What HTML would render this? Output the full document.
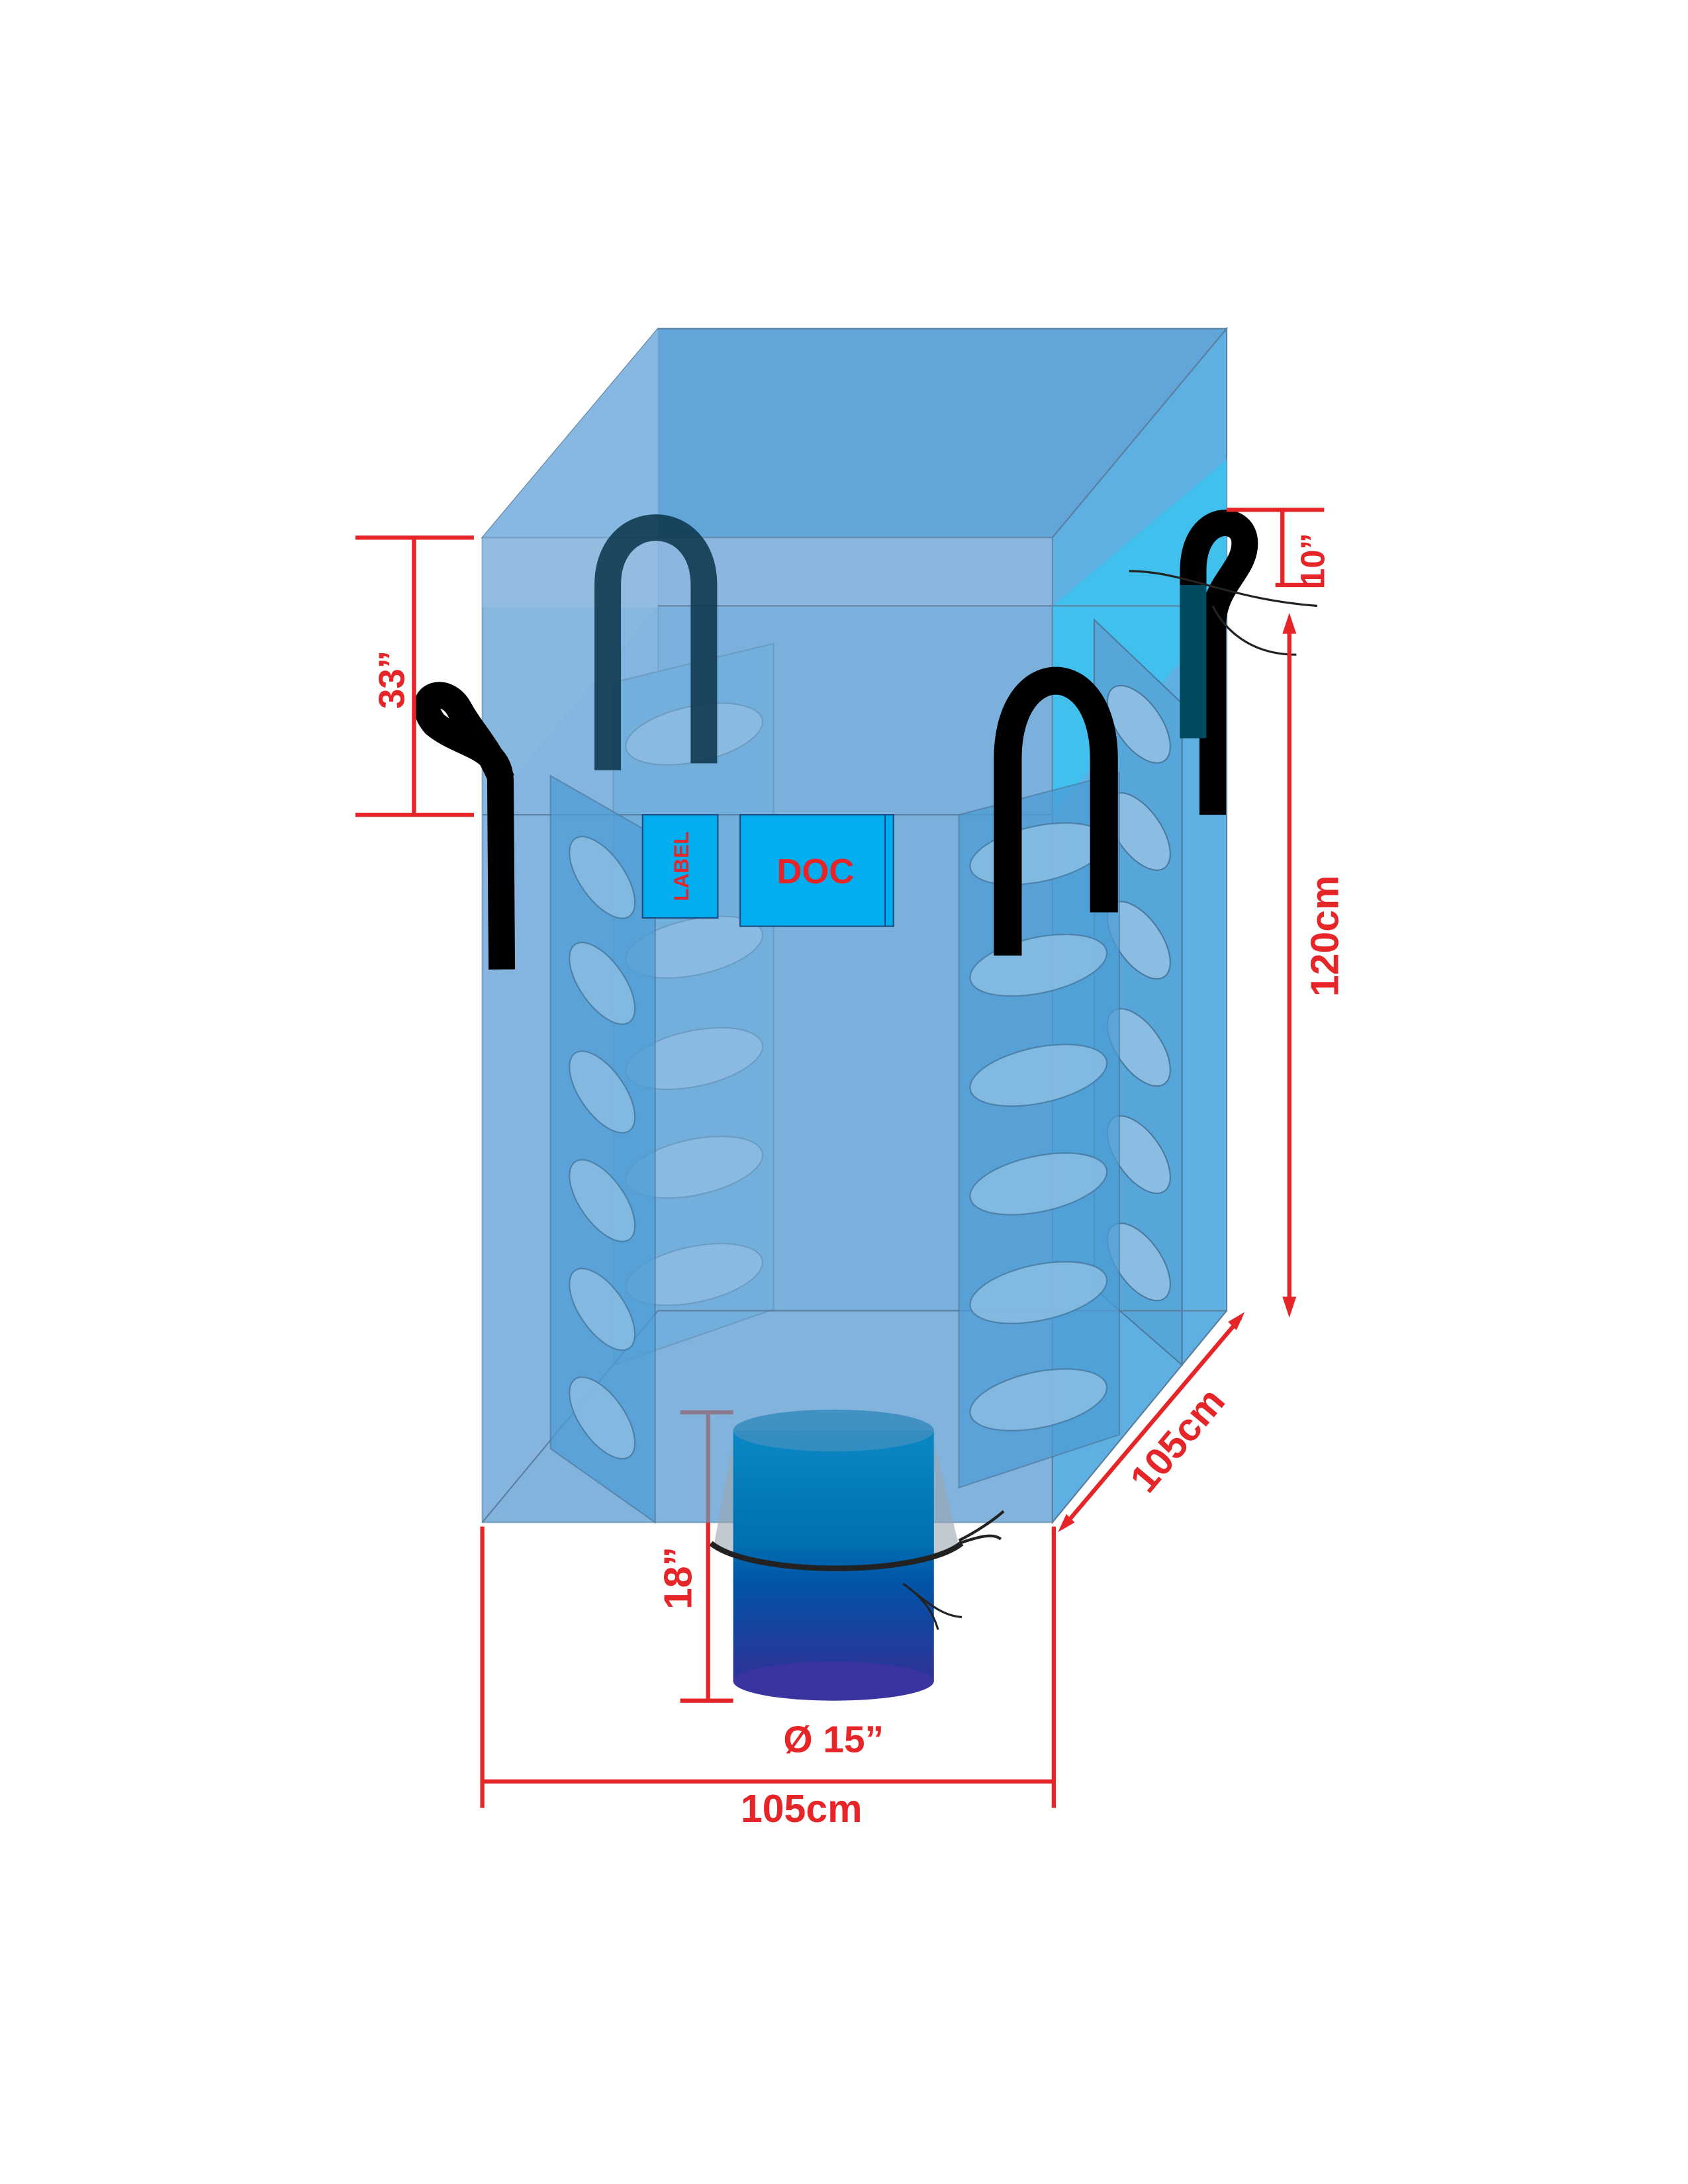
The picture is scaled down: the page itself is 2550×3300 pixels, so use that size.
<!DOCTYPE html>
<html><head><style>html,body{margin:0;padding:0;background:#fff}svg{display:block}</style></head>
<body>
<svg width="2550" height="3300" viewBox="0 0 1211 1568" preserveAspectRatio="none" xmlns="http://www.w3.org/2000/svg" font-family="Liberation Sans, Arial, sans-serif">
<defs>
<linearGradient id="cyl" x1="0" y1="0" x2="0" y2="1">
<stop offset="0" stop-color="#0a88c4"/><stop offset="0.45" stop-color="#0070b0"/><stop offset="0.6" stop-color="#0055a8"/><stop offset="1" stop-color="#2e3196"/></linearGradient>
</defs>
<rect width="1211" height="1568" fill="#fff"/>
<!-- base silhouette -->
<polygon points="346,386 472,236 880,236 880,941 755,1093 346,1093" fill="#7aaedb"/>
<!-- back face -->
<rect x="472" y="236" width="408" height="705" fill="#6aa8da" stroke="#5a7fa0" stroke-width="1"/>
<!-- top face -->
<polygon points="346,386 472,236 880,236 755,386" fill="#62a5d8" stroke="#5a7fa0" stroke-width="1"/>
<polygon points="346,386 472,236 472,435 346,585" fill="#86b8e2"/>
<!-- right face -->
<polygon points="755,386 880,236 880,941 755,1093" fill="#5fb0e2" stroke="#5a7fa0" stroke-width="1"/>
<polygon points="755,435 880,330 880,435 755,585" fill="#3cc3f0" opacity="0.85"/>
<!-- left face -->
<polygon points="346,585 472,435 472,941 346,1093" fill="#7fb0dc"/>
<!-- inner baffles back -->
<g stroke="#4a7aa0" stroke-width="1">
<polygon points="440,490 555,462 555,940 440,980" fill="#56a6da"/>
<polygon points="785,445 848,505 848,980 785,925" fill="#56a6da"/>
<g fill="#8bbde3">
<ellipse cx="498" cy="527" rx="50" ry="20" transform="rotate(-12 498 527)"/>
<ellipse cx="498" cy="680" rx="50" ry="20" transform="rotate(-12 498 680)"/>
<ellipse cx="498" cy="760" rx="50" ry="20" transform="rotate(-12 498 760)"/>
<ellipse cx="498" cy="838" rx="50" ry="20" transform="rotate(-12 498 838)"/>
<ellipse cx="498" cy="915" rx="50" ry="20" transform="rotate(-12 498 915)"/>
<ellipse cx="817" cy="520" rx="16" ry="32" transform="rotate(-35 817 520)"/>
<ellipse cx="817" cy="597" rx="16" ry="32" transform="rotate(-35 817 597)"/>
<ellipse cx="817" cy="675" rx="16" ry="32" transform="rotate(-35 817 675)"/>
<ellipse cx="817" cy="752" rx="16" ry="32" transform="rotate(-35 817 752)"/>
<ellipse cx="817" cy="829" rx="16" ry="32" transform="rotate(-35 817 829)"/>
<ellipse cx="817" cy="906" rx="16" ry="32" transform="rotate(-35 817 906)"/>
</g></g>
<!-- front face -->
<rect x="346" y="386" width="409" height="707" fill="#8ab8e0" opacity="0.55" stroke="#5a7fa0" stroke-width="1"/>
<rect x="346" y="386" width="409" height="50" fill="#a8c4e2" opacity="0.35"/>
<line x1="346" y1="585" x2="755" y2="585" stroke="#5a7fa0" stroke-width="1"/>
<line x1="472" y1="435" x2="880" y2="435" stroke="#5a7fa0" stroke-width="1"/>
<line x1="472" y1="941" x2="880" y2="941" stroke="#5a7fa0" stroke-width="1"/>
<line x1="346" y1="1093" x2="472" y2="941" stroke="#5a7fa0" stroke-width="1"/>
<line x1="755" y1="1093" x2="880" y2="941" stroke="#5a7fa0" stroke-width="1"/>
<!-- front baffles -->
<g stroke="#4a7aa0" stroke-width="1">
<polygon points="395,557 470,600 470,1093 395,1040" fill="#4d9dd6" opacity="0.75"/>
<polygon points="688,585 803,555 803,1030 688,1068" fill="#4d9dd6" opacity="0.75"/>
<g fill="#8bbde3" opacity="0.85">
<ellipse cx="432" cy="630" rx="16" ry="34" transform="rotate(-35 432 630)"/>
<ellipse cx="432" cy="706" rx="16" ry="34" transform="rotate(-35 432 706)"/>
<ellipse cx="432" cy="784" rx="16" ry="34" transform="rotate(-35 432 784)"/>
<ellipse cx="432" cy="862" rx="16" ry="34" transform="rotate(-35 432 862)"/>
<ellipse cx="432" cy="940" rx="16" ry="34" transform="rotate(-35 432 940)"/>
<ellipse cx="432" cy="1018" rx="16" ry="34" transform="rotate(-35 432 1018)"/>
<ellipse cx="745" cy="613" rx="50" ry="20" transform="rotate(-12 745 613)"/>
<ellipse cx="745" cy="693" rx="50" ry="20" transform="rotate(-12 745 693)"/>
<ellipse cx="745" cy="772" rx="50" ry="20" transform="rotate(-12 745 772)"/>
<ellipse cx="745" cy="850" rx="50" ry="20" transform="rotate(-12 745 850)"/>
<ellipse cx="745" cy="928" rx="50" ry="20" transform="rotate(-12 745 928)"/>
<ellipse cx="745" cy="1005" rx="50" ry="20" transform="rotate(-12 745 1005)"/>
</g></g>
<!-- labels -->
<rect x="461" y="585" width="54" height="74" fill="#00aeef" stroke="#1a4a80" stroke-width="1"/>
<text x="0" y="0" transform="translate(494,622) rotate(-90)" text-anchor="middle" font-size="15" font-weight="bold" fill="#e52528">LABEL</text>
<rect x="531" y="585" width="110" height="80" fill="#00aeef" stroke="#1a4a80" stroke-width="1"/>
<line x1="635" y1="585" x2="635" y2="665" stroke="#1a4a80"/>
<text x="585" y="634" text-anchor="middle" font-size="25" font-weight="bold" fill="#e52528">DOC</text>
<!-- loops -->
<g fill="none" stroke-linecap="butt">
<path d="M436,553 L436,420 C436,365 505,365 505,420 L505,548" stroke="#0f3a50" stroke-width="19" opacity="0.9"/>
<path d="M723,686 L723,545 C723,470 792,470 792,545 L792,655" stroke="#000" stroke-width="20"/>
<path d="M856,530 L856,410 C856,368 893,368 893,390 C893,410 870,420 870,450 L870,585" stroke="#000" stroke-width="19"/>
<path d="M856,530 L856,420" stroke="#004a60" stroke-width="19"/>
<path d="M360,696 L359,560 C358,535 330,535 312,520 C295,500 320,490 330,510 C338,525 350,535 360,560" stroke="#000" stroke-width="19"/>
<path d="M810,410 C850,410 880,430 945,435 M870,435 C880,455 900,470 930,470" stroke="#222" stroke-width="1.5"/>
</g>
<!-- outlet -->
<path d="M526,1035 L512,1110 C540,1130 660,1130 688,1110 L670,1035 Z" fill="#9aa5b0" opacity="0.6"/>
<rect x="526" y="1027" width="144" height="180" fill="url(#cyl)"/>
<ellipse cx="598" cy="1207" rx="72" ry="14" fill="#3a34a0"/>
<ellipse cx="598" cy="1027" rx="72" ry="15" fill="#3a8ec0" opacity="0.9"/>
<path d="M510,1108 C540,1132 660,1132 690,1108" stroke="#222" stroke-width="4" fill="none"/>
<path d="M688,1106 C700,1100 712,1092 720,1085 M688,1108 C700,1104 712,1100 718,1105" stroke="#222" stroke-width="2" fill="none"/>
<path d="M648,1137 C665,1150 675,1160 690,1161 M652,1140 C665,1150 670,1160 673,1170" stroke="#222" stroke-width="1.5" fill="none"/>
<!-- dimensions -->
<g stroke="#e52528" stroke-width="3" fill="none">
<line x1="255" y1="386" x2="340" y2="386"/><line x1="255" y1="585" x2="340" y2="585"/><line x1="297" y1="386" x2="297" y2="585"/>
<line x1="346" y1="1096" x2="346" y2="1298"/><line x1="756" y1="1096" x2="756" y2="1298"/><line x1="346" y1="1279" x2="756" y2="1279"/>
<line x1="488" y1="1221" x2="526" y2="1221"/><line x1="508" y1="1093" x2="508" y2="1221"/>
<line x1="880" y1="366" x2="950" y2="366"/><line x1="915" y1="420" x2="950" y2="420"/><line x1="920" y1="366" x2="920" y2="420"/>
<line x1="925" y1="445" x2="925" y2="940"/>
<line x1="763" y1="1096" x2="890" y2="946"/>
</g>
<line x1="488" y1="1014" x2="526" y2="1014" stroke="#8e7a90" stroke-width="3"/>
<line x1="508" y1="1014" x2="508" y2="1093" stroke="#8e7a90" stroke-width="3"/>
<g fill="#e52528">
<polygon points="925,440 920,455 930,455"/><polygon points="925,946 920,931 930,931"/>
<polygon points="893,942 881,949 887,955"/><polygon points="759,1100 765,1087 771,1093"/>
<text x="0" y="0" transform="translate(290,488) rotate(-90)" text-anchor="middle" font-size="26" font-weight="bold">33”</text>
<text x="0" y="0" transform="translate(950,402) rotate(-90)" text-anchor="middle" font-size="24" font-weight="bold">10”</text>
<text x="0" y="0" transform="translate(960,672) rotate(-90)" text-anchor="middle" font-size="28" font-weight="bold">120cm</text>
<text x="0" y="0" transform="translate(852,1040) rotate(-50)" text-anchor="middle" font-size="28" font-weight="bold">105cm</text>
<text x="0" y="0" transform="translate(496,1133) rotate(-90)" text-anchor="middle" font-size="28" font-weight="bold">18”</text>
<text x="598" y="1258" text-anchor="middle" font-size="27" font-weight="bold">Ø 15”</text>
<text x="575" y="1308" text-anchor="middle" font-size="28" font-weight="bold">105cm</text>
</g>
</svg>
</body></html>
